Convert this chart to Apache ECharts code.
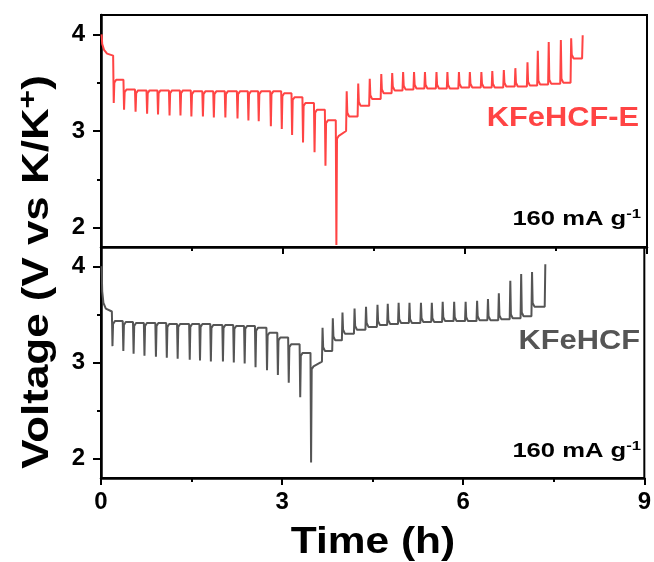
<!DOCTYPE html>
<html>
<head>
<meta charset="utf-8">
<script src="https://cdn.jsdelivr.net/npm/echarts@6/dist/echarts.min.js"></script>
<style>
  html, body { margin: 0; padding: 0; background: #fff; }
  #chart { width: 654px; height: 562px; }
</style>
</head>
<body>
<div id="chart"></div>
<script>
// ---- GITT data, KFeHCF-E (top panel) ----
const eHeadT = [0.01, 0.02, 0.05, 0.10, 0.20];
const eHeadV = [4.00, 3.90, 3.84, 3.80, 3.78];
const eDisT = [0.20, 0.37, 0.56, 0.75, 0.93, 1.12, 1.30, 1.48, 1.67, 1.85, 2.04, 2.24, 2.42, 2.59, 2.79, 2.97, 3.14, 3.32, 3.51, 3.69, 3.87];
const eDisLow = [3.29, 3.22, 3.20, 3.18, 3.17, 3.16, 3.16, 3.15, 3.15, 3.14, 3.14, 3.13, 3.11, 3.10, 3.05, 3.02, 2.96, 2.88, 2.78, 2.64, 1.82];
const eDisRest = [3.53, 3.43, 3.42, 3.42, 3.42, 3.42, 3.42, 3.41, 3.41, 3.41, 3.41, 3.41, 3.41, 3.41, 3.41, 3.39, 3.35, 3.29, 3.22, 3.11];
const eRecover = [2.95, 3.00];
const eChgT = [4.04, 4.23, 4.42, 4.61, 4.79, 4.97, 5.15, 5.33, 5.52, 5.70, 5.89, 6.07, 6.26, 6.44, 6.63, 6.82, 7.02, 7.19, 7.37, 7.57, 7.74, 7.93];
const eChgHigh = [3.41, 3.49, 3.54, 3.59, 3.60, 3.61, 3.61, 3.61, 3.61, 3.61, 3.61, 3.61, 3.61, 3.62, 3.63, 3.65, 3.71, 3.83, 3.92, 3.94, 3.96, 3.99];
const eChgRest = [3.15, 3.26, 3.33, 3.39, 3.42, 3.43, 3.44, 3.44, 3.44, 3.44, 3.45, 3.45, 3.45, 3.45, 3.46, 3.46, 3.47, 3.48, 3.49, 3.50, 3.75];

// ---- GITT data, KFeHCF (bottom panel) ----
const kHeadT = [0.01, 0.02, 0.04, 0.08, 0.18];
const kHeadV = [4.00, 3.74, 3.62, 3.56, 3.53];
const kDisT = [0.18, 0.36, 0.53, 0.71, 0.90, 1.08, 1.26, 1.46, 1.63, 1.81, 2.01, 2.19, 2.37, 2.55, 2.74, 2.92, 3.10, 3.29, 3.47];
const kDisLow = [3.17, 3.12, 3.09, 3.07, 3.06, 3.05, 3.04, 3.03, 3.02, 3.01, 3.01, 3.00, 2.99, 2.95, 2.92, 2.87, 2.79, 2.64, 1.96];
const kDisRest = [3.43, 3.42, 3.41, 3.41, 3.41, 3.40, 3.40, 3.40, 3.40, 3.39, 3.39, 3.38, 3.38, 3.36, 3.31, 3.26, 3.19, 3.10];
const kRecover = [2.96, 3.01];
const kChgT = [3.66, 3.83, 3.99, 4.19, 4.38, 4.57, 4.74, 4.92, 5.10, 5.29, 5.47, 5.65, 5.84, 6.03, 6.22, 6.40, 6.58, 6.77, 6.95, 7.13, 7.35];
const kChgHigh = [3.36, 3.46, 3.52, 3.56, 3.58, 3.60, 3.61, 3.62, 3.62, 3.62, 3.62, 3.63, 3.63, 3.63, 3.64, 3.66, 3.72, 3.85, 3.92, 3.94, 4.02];
const kChgRest = [3.12, 3.23, 3.30, 3.34, 3.37, 3.39, 3.40, 3.41, 3.41, 3.42, 3.42, 3.43, 3.43, 3.43, 3.44, 3.44, 3.45, 3.46, 3.48, 3.58];

// axis ticks
const voltTicks = [2, 3, 4];
const voltMinor = [2.5, 3.5];

// Each current pulse is a narrow spike: jump to the pulse extreme, then relax to the rest level.
const PULSE = 0.01;
function buildTrace(headT, headV, disT, disLow, disRest, recover, chgT, chgHigh, chgRest) {
  const pts = headT.map((t, i) => [t, headV[i]]);
  let level = headV[headV.length - 1];
  disT.forEach((t, i) => {
    pts.push([t, level], [t + PULSE, disLow[i]]);
    const rest = i < disRest.length ? disRest[i] : recover[0];
    pts.push([t + 2 * PULSE, rest - 0.03], [t + 5 * PULSE, rest]);
    level = rest;
  });
  level = recover[1];
  chgT.forEach((t, i) => {
    pts.push([t, level], [t + PULSE, chgHigh[i]]);
    if (i < chgRest.length) {
      const rest = chgRest[i];
      pts.push([t + 2 * PULSE, rest + 0.04], [t + 5 * PULSE, rest]);
      level = rest;
    }
  });
  return pts;
}

const FONT = 'Liberation Sans, Arial, sans-serif';
const RED = '#ff4444';
const GRAY = '#555555';

function xAxisFor(gridIndex, withLabels) {
  return {
    gridIndex, type: 'value', min: 0, max: 9, interval: 3,
    axisLine: { onZero: false, lineStyle: { color: '#000', width: 2.5 } },
    axisTick: { length: 7, lineStyle: { color: '#000', width: 2 } },
    minorTick: { show: true, splitNumber: 2, length: 4, lineStyle: { color: '#000', width: 2 } },
    splitLine: { show: false },
    axisLabel: withLabels
      ? { show: true, fontFamily: FONT, fontWeight: 'bold', fontSize: 24, color: '#000', margin: 12 }
      : { show: false }
  };
}
function yAxisFor(gridIndex) {
  return {
    gridIndex, type: 'value', min: 1.8, max: 4.2,
    axisLine: { onZero: false, lineStyle: { color: '#000', width: 2.5 } },
    axisTick: { customValues: voltTicks, length: 8, lineStyle: { color: '#000', width: 2 } },
    axisLabel: { customValues: voltTicks, fontFamily: FONT, fontWeight: 'bold', fontSize: 24, color: '#000', margin: 16 },
    splitLine: { show: false }
  };
}
function yMinorFor(gridIndex) {
  return {
    gridIndex, type: 'value', min: 1.8, max: 4.2, position: 'left',
    axisLine: { show: false },
    axisTick: { customValues: voltMinor, length: 4, lineStyle: { color: '#000', width: 2 } },
    axisLabel: { show: false },
    splitLine: { show: false }
  };
}
function rateLabel(y) {
  return {
    type: 'text', x: 641, y, scaleX: 1.28,
    style: {
      text: '{a|160 mA g}{s|-1}', align: 'right', verticalAlign: 'middle',
      rich: {
        a: { fontFamily: FONT, fontWeight: 'bold', fontSize: 20, fill: '#000' },
        s: { fontFamily: FONT, fontWeight: 'bold', fontSize: 13, fill: '#000', padding: [0, 0, 10, 0] }
      }
    }
  };
}

const chart = echarts.init(document.getElementById('chart'), null, { renderer: 'canvas' });
chart.setOption({
  animation: false,
  backgroundColor: '#fff',
  grid: [
    { left: 101, top: 15, width: 546, height: 232, show: true, borderColor: '#000', borderWidth: 2, containLabel: false },
    { left: 101, top: 247, width: 546, height: 231, show: true, borderColor: '#000', borderWidth: 2, containLabel: false }
  ],
  xAxis: [xAxisFor(0, false), xAxisFor(1, true)],
  yAxis: [yAxisFor(0), yAxisFor(1), yMinorFor(0), yMinorFor(1)],
  series: [
    {
      type: 'line', xAxisIndex: 0, yAxisIndex: 0, symbol: 'none',
      lineStyle: { color: RED, width: 2 },
      data: buildTrace(eHeadT, eHeadV, eDisT, eDisLow, eDisRest, eRecover, eChgT, eChgHigh, eChgRest)
    },
    {
      type: 'line', xAxisIndex: 1, yAxisIndex: 1, symbol: 'none',
      lineStyle: { color: GRAY, width: 2 },
      data: buildTrace(kHeadT, kHeadV, kDisT, kDisLow, kDisRest, kRecover, kChgT, kChgHigh, kChgRest)
    }
  ],
  graphic: [
    {
      type: 'text', x: 38, y: 272, rotation: Math.PI / 2, scaleX: 1.22,
      style: {
        text: '{a|Voltage (V vs K/K}{s|+}{a|)}',
        align: 'center', verticalAlign: 'middle',
        rich: {
          a: { fontFamily: FONT, fontWeight: 'bold', fontSize: 36, fill: '#000' },
          s: { fontFamily: FONT, fontWeight: 'bold', fontSize: 26, fill: '#000', padding: [0, 0, 18, 0] }
        }
      }
    },
    {
      type: 'text', x: 373, y: 543, scaleX: 1.18,
      style: { text: 'Time (h)', align: 'center', verticalAlign: 'middle', fontFamily: FONT, fontWeight: 'bold', fontSize: 36, fill: '#000' }
    },
    {
      type: 'text', x: 639, y: 118, scaleX: 1.1,
      style: { text: 'KFeHCF-E', align: 'right', verticalAlign: 'middle', fontFamily: FONT, fontWeight: 'bold', fontSize: 28, fill: RED }
    },
    {
      type: 'text', x: 640, y: 341, scaleX: 1.1,
      style: { text: 'KFeHCF', align: 'right', verticalAlign: 'middle', fontFamily: FONT, fontWeight: 'bold', fontSize: 28, fill: GRAY }
    },
    rateLabel(219),
    rateLabel(451)
  ]
});
</script>
</body>
</html>
